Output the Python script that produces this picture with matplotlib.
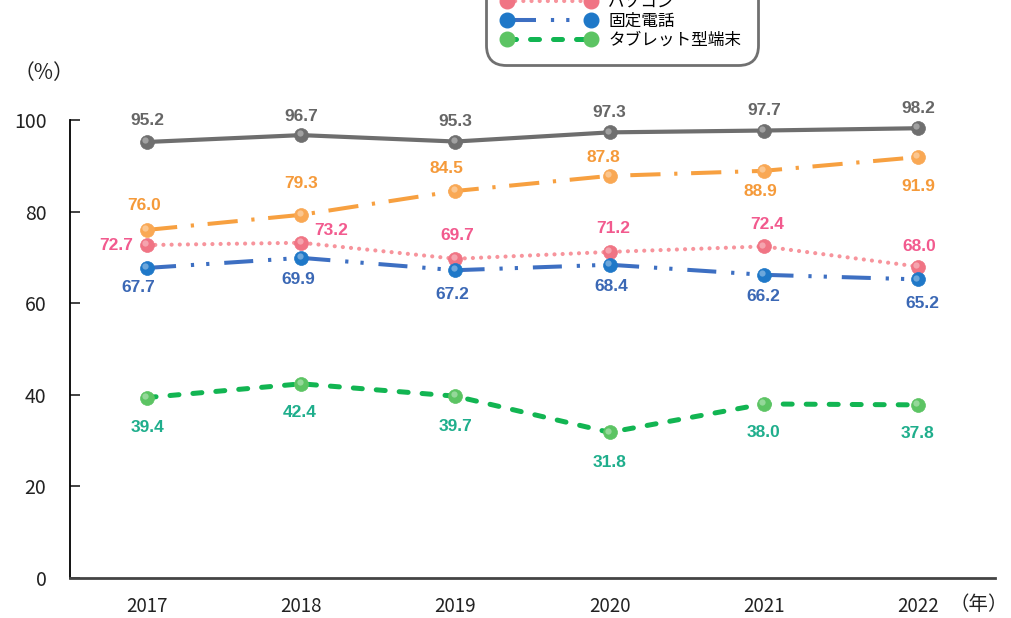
import matplotlib
matplotlib.use('Agg')
import matplotlib.pyplot as plt
import matplotlib.transforms as mtransforms
from matplotlib.lines import Line2D

plt.rcParams['font.family'] = ['Noto Sans CJK JP', 'DejaVu Sans']

years = ['2017', '2018', '2019', '2020', '2021', '2022']
mobile_total = [95.2, 96.7, 95.3, 97.3, 97.7, 98.2]
smartphone = [76.0, 79.3, 84.5, 87.8, 88.9, 91.9]
pc = [72.7, 73.2, 69.7, 71.2, 72.4, 68.0]
landline = [67.7, 69.9, 67.2, 68.4, 66.2, 65.2]
tablet = [39.4, 42.4, 39.7, 31.8, 38.0, 37.8]
series_names = ['モバイル端末全体', 'スマートフォン', 'パソコン', '固定電話', 'タブレット型端末']
y_ticks = [0, 20, 40, 60, 80, 100]

# style per series: line colour, marker colour, label colour, linewidth, dash, capstyle
styles = [
    dict(lc='#6e6e6e', mc='#6f6f6f', tc='#666666', lw=3.0, ls='-', cap='round'),
    dict(lc='#f7a040', mc='#f9a854', tc='#f59a3a', lw=2.9, ls=(0, (7.5, 3.4, 0.8, 3.4)), cap='butt'),
    dict(lc='#f7949c', mc='#f07484', tc='#f25a8e', lw=3.0, ls=(0, (0.01, 1.95)), cap='round'),
    dict(lc='#3d6fc2', mc='#1f78c8', tc='#3b68b5', lw=2.9, ls=(0, (7.2, 3.7, 0.8, 3.0, 0.8, 3.7)), cap='butt'),
    dict(lc='#12b552', mc='#5cc463', tc='#1fae8c', lw=3.6, ls=(0, (1.8, 2.8)), cap='round'),
]

# label offsets in pixels (dx, dy), dy positive = up
offsets = [
    [(0, 21), (0, 19), (0, 20), (0, 20), (0, 20), (0, 20)],
    [(-3, 24), (0, 31), (-9, 22), (-6, 18), (-3, -21), (0, -29)],
    [(-31, 0), (30, 12), (2, 23), (4, 23), (3, 22), (1, 20)],
    [(-9, -20), (-3, -22), (-3, -24), (2, -22), (0, -22), (4, -24)],
    [(0, -30), (-2, -29), (0, -30), (0, -30), (0, -29), (0, -29)],
]

data = [mobile_total, smartphone, pc, landline, tablet]

fig = plt.figure(figsize=(10.11, 6.18), dpi=100)
ax = fig.add_axes([70 / 1011, 1 - 578 / 618, 925 / 1011, 458 / 618])
x = list(range(len(years)))

px = 72 / 100  # points per pixel
hi = mtransforms.offset_copy(ax.transData, fig=fig, x=-1.6, y=1.8, units='dots')

handles = []
for vals, st, offs, name in zip(data, styles, offsets, series_names):
    ax.plot(x, vals, color=st['lc'], lw=st['lw'], linestyle=st['ls'],
            dash_capstyle=st['cap'], solid_capstyle='round', zorder=2, clip_on=False)
    ax.plot(x, vals, 'o', ms=10, mfc=st['mc'], mec=st['mc'], mew=0.5, zorder=3, clip_on=False)
    ax.plot(x, vals, 'o', ms=4.5, mfc='white', mec='none', alpha=0.35, zorder=4,
            clip_on=False, transform=hi)
    for xi, v, (dx, dy) in zip(x, vals, offs):
        ax.annotate(f'{v:.1f}', (xi, v), xytext=(dx * px, dy * px), textcoords='offset points',
                    ha='center', va='center', fontsize=12.5, fontweight='bold', color=st['tc'],
                    family=['Liberation Sans Narrow', 'Liberation Sans'], zorder=5)
    handles.append(Line2D([0], [0], color=st['lc'], lw=st['lw'], linestyle=st['ls'],
                          dash_capstyle=st['cap'], marker='o', ms=10.5, mfc=st['mc'],
                          mec=st['mc'], label=name))

ax.set_xlim(-0.5, len(years) - 0.5)
ax.set_ylim(0, 100)
ax.set_xticks(x)
ax.set_xticklabels(years, fontsize=13.5)
ax.set_yticks(y_ticks)
ax.set_yticklabels([str(t) for t in y_ticks], fontsize=14)
ax.tick_params(axis='x', length=0, pad=13, colors='#222222')
ax.tick_params(axis='y', direction='in', length=7, width=1.2, pad=17, colors='#222222')
for s in ['top', 'right']:
    ax.spines[s].set_visible(False)
ax.spines['left'].set_linewidth(1.3)
ax.spines['bottom'].set_linewidth(2.0)
ax.spines['bottom'].set_color('#444444')

fig.text(44 / 1011, 1 - 73 / 618, '（%）', ha='center', va='center', fontsize=15, color='#222222')
fig.text(1008 / 1011, 1 - 604 / 618, '（年）', ha='right', va='center', fontsize=14, color='#222222')

leg = fig.legend(handles=handles, loc='lower left', bbox_to_anchor=(494 / 1011, 1 - 57 / 618),
                 fontsize=12, handlelength=5.6, handletextpad=0.75, labelspacing=0.13,
                 borderpad=0.5, borderaxespad=0, numpoints=2, fancybox=True, framealpha=1)
leg.get_frame().set_edgecolor('#707070')
leg.get_frame().set_linewidth(2.0)
leg.get_frame().set_boxstyle('round', pad=0.5, rounding_size=1.2)

fig.savefig('out.png', dpi=100)
